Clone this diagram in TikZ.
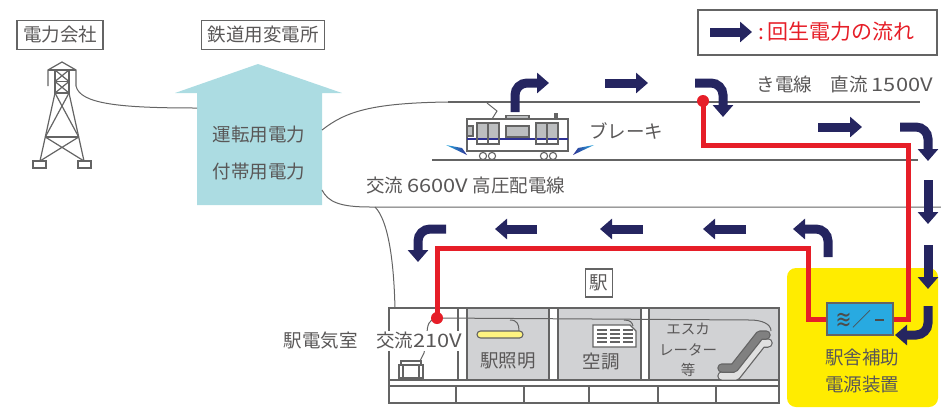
\documentclass[tikz,border=0pt]{standalone}
\usepackage{fontspec}
\setmainfont{Noto Sans CJK JP}
\newfontfamily\widelatin[FakeStretch=1.18]{Noto Sans CJK JP}
\newfontfamily\symfont{DejaVu Sans}
\usetikzlibrary{arrows.meta}

\definecolor{txtgray}{RGB}{89,87,87}
\definecolor{wiregray}{RGB}{100,100,100}
\definecolor{navyflow}{RGB}{37,37,96}
\definecolor{regenred}{RGB}{230,30,40}
\definecolor{subblue}{RGB}{172,220,226}
\definecolor{apsyellow}{RGB}{255,236,0}
\definecolor{convblue}{RGB}{40,170,225}
\definecolor{roomgray}{RGB}{209,210,212}
\definecolor{lampyellow}{RGB}{255,244,128}
\definecolor{cargray}{RGB}{188,190,192}
\definecolor{carblue}{RGB}{46,49,146}

\tikzset{
  lbl/.style={text=txtgray, font=\fontsize{18.5}{21}\selectfont, inner sep=0pt},
  tagbox/.style={lbl, draw=wiregray, line width=1.2pt, inner xsep=6pt, minimum height=29pt},
  smalllbl/.style={text=txtgray, font=\fontsize{14.5}{20.5}\selectfont, inner sep=0pt, align=center},
  wire/.style={draw=wiregray, line width=1pt},
  track/.style={draw=wiregray, line width=2.4pt},
  outline/.style={draw=wiregray, line width=1.1pt},
  redline/.style={draw=regenred, line width=5pt},
  reddot/.style={circle, fill=regenred, minimum size=12pt, inner sep=0pt},
  flow/.style={draw=navyflow, line width=9pt, rounded corners=12pt, -{Triangle[length=12pt,width=20pt]}},
}

\begin{document}
\begin{tikzpicture}[x=1pt, y=-1pt]
  \useasboundingbox (0,0) rectangle (941,408);

  % auxiliary power unit background
  \fill[apsyellow, rounded corners=9pt] (787,268) rectangle (938,407);

  % substation (big arrow)
  \fill[subblue] (258,64) -- (342,93) -- (322,93) -- (322,205) -- (197,205) -- (197,93) -- (175,93) -- cycle;
  \node[lbl] (opPower) at (259,135) {運転用電力};
  \node[lbl] (auxPower) at (259,172) {付帯用電力};

  % pylon
  \begin{scope}[draw=wiregray, line width=1.2pt]
    \draw (48,86) -- (48,70) -- (62,62) -- (76,70) -- (76,86);
    \draw (48,70) -- (76,70);
    \draw (55,70) rectangle (69,93);
    \draw (55,81.5) -- (69,81.5);
    \draw (55,70) -- (69,81.5) (69,70) -- (55,81.5);
    \draw (55,81.5) -- (69,93) (69,81.5) -- (55,93);
    \draw (55,93) -- (40,161) (69,93) -- (84,161);
    \draw (45.3,137) -- (78.7,137);
    \draw (55,93) -- (78.7,137) (69,93) -- (45.3,137);
    \draw (45.3,137) -- (84,161) (78.7,137) -- (40,161);
    \draw (33,161) rectangle (46,168) (78,161) rectangle (91,168);
  \end{scope}
  \coordinate (pylonArm) at (76,86);
  \coordinate (subIn) at (197,108);
  \draw[wire] (pylonArm) .. controls (80,104) and (120,108) .. (subIn);

  % tags
  \node[tagbox] (tagPower) at (60,35) {電力会社};
  \node[tagbox] (tagSub) at (263,35) {鉄道用変電所};

  % feeders out of the substation
  \coordinate (subUp) at (322,130);
  \coordinate (subLow) at (322,190);
  \coordinate (catStart) at (448,102);
  \coordinate (catEnd) at (920,102);
  \coordinate (railStart) at (432,160);
  \coordinate (railEnd) at (918,160);
  \draw[wire] (subUp) .. controls (345,112) and (370,103) .. (catStart);
  \draw[track] (catStart) -- (catEnd);
  \draw[track] (railStart) -- (railEnd);
  \draw[wire] (subLow) .. controls (328,202) and (340,207) .. (370,207) -- (941,207);
  \draw[wire] (375,207) .. controls (388,220) and (394,260) .. (395,310) -- (396,345) -- (401,355) -- (404,361);

  \node[lbl, anchor=east] (feederTxt) at (933,84) {き電線　直流 {\widelatin 1500V}};
  \node[lbl, anchor=west] (distTxt) at (366,185) {交流 {\widelatin 6600V} 高圧配電線};
  \node[lbl] (brakeTxt) at (626,131) {ブレーキ};

  % train
  \draw[wire] (487,103) -- (497,111) -- (492,119);
  \draw[outline, fill=white] (467,119) rectangle (568,151);
  \draw[outline, fill=cargray] (506,115.5) rectangle (529,119);
  \fill[wiregray] (554,113) rectangle (558,119);
  \foreach \d in {477,536}
    \fill[cargray] (\d,123) rectangle ++(22,15);
  \draw[carblue, line width=2pt] (467,139) -- (568,139);
  \foreach \d in {477,536}
    \draw[outline] (\d,123) rectangle ++(22,21) (\d+11,123) -- ++(0,21);
  \draw[outline, fill=cargray] (467,126) rectangle (473,136);
  \draw[outline, fill=cargray] (506,126) rectangle (529,137);
  \foreach \w in {483,492,544,553}
    \draw[outline, fill=white] (\w,156) circle[radius=3.6];
  \shade[left color=convblue, right color=carblue] (446,145) -- (462,148) -- (467,155) -- cycle;
  \shade[left color=carblue, right color=convblue] (594,145) -- (578,148) -- (573,155) -- cycle;

  % station building
  \node[tagbox, inner xsep=4pt, minimum height=28pt] (staTag) at (599,283) {駅};
  \fill[white] (389,308) rectangle (779,403);
  \fill[roomgray] (467,308) rectangle (549,380);
  \fill[roomgray] (558,308) rectangle (641,380);
  \fill[roomgray] (649,308) rectangle (779,380);
  \draw[outline] (389,380) -- (779,380) (389,386) -- (779,386);
  \foreach \x in {456,524,589,658,716}
    \draw[outline] (\x,386) -- (\x,403);
  \foreach \a/\b in {458/467,549/558,641/649}
    \draw[outline] (\a,308) -- (\a,380) (\b,308) -- (\b,380);

  % wiring from the tap point
  \coordinate (staTap) at (437,318);
  \draw[wire] (staTap) -- (750,320) .. controls (762,320) and (771,324) .. (771,331);
  \draw[wire] (510,320) .. controls (517,320) and (519,324) .. (519,331);
  \draw[wire] (624,320) .. controls (630,320) and (632,322) .. (633,326);
  \draw[wire] (staTap) .. controls (429,319) and (427,325) .. (427,335) -- (424,353) -- (420,361);

  % transformer
  \draw[outline, fill=white] (401,361) rectangle (421,365);
  \draw[outline, fill=white] (399,365) rectangle (423,378);
  \draw[outline] (403,365) -- (403,378) (419,365) -- (419,378);

  % lighting
  \draw[outline, fill=lampyellow, rounded corners=3.5pt] (477,331) rectangle (523,338);
  \node[lbl] (lampTxt) at (508,361) {駅照明};

  % air conditioner
  \draw[outline, fill=white] (593,325) -- (630,325) -- (636,331) -- (636,347) -- (593,347) -- cycle;
  \foreach \c in {597,610,623}
    \foreach \r in {330,334,338,342}
      \draw[draw=wiregray, line width=1.4pt] (\c,\r) -- ++(10,0);
  \node[lbl] (acTxt) at (601,362) {空調};

  % escalator
  \draw[draw=wiregray, line width=9.5pt, line cap=round, line join=round] (722,376) -- (736,376) -- (762,343) -- (768,343);
  \draw[draw=black!12, line width=7pt, line cap=round, line join=round] (722,376) -- (736,376) -- (762,343) -- (768,343);
  \draw[draw=wiregray, line width=9.5pt, line cap=round, line join=round] (722,368) -- (734,368) -- (760,335) -- (766,335);
  \draw[draw=black!50, line width=7pt, line cap=round, line join=round] (722,368) -- (734,368) -- (760,335) -- (766,335);
  \node[smalllbl] (escTxt) at (688,350) {エスカ\\レーター\\等};

  \draw[outline] (389,308) rectangle (779,403);

  \node[lbl, fill=white, inner sep=1.5pt, anchor=east] (roomTxt) at (464,341) {駅電気室　交流{\widelatin 210V}};

  % converter and tap points
  \node[draw=wiregray, line width=1.8pt, fill=convblue, minimum width=66pt, minimum height=32pt, inner sep=0pt, text=black!70] (conv) at (860,319)
    {\raisebox{-2pt}{\scalebox{1}[1.35]{\symfont\fontsize{19}{19}\selectfont ≋}}\hspace{1pt}{\fontsize{19}{19}\selectfont ／}\hspace{4pt}\raisebox{5pt}{\rule{9pt}{1.6pt}}};
  \node[lbl, align=center] (apsTxt) at (862,371) {駅舎補助\\[6pt]電源装置};
  \node[reddot] (dotCat) at (703,101) {};
  \node[reddot] (dotSta) at (staTap) {};

  % regenerated power path
  \draw[redline] (dotCat.center) -- (703,145) -- (908,145) |- (conv.east);
  \draw[redline] (conv.west) -| (808,248) -| (dotSta.center);

  % flow arrows
  \draw[flow] (515,112) -- (515,83) -- (549,83);
  \draw[flow] (605,83) -- (648,83);
  \draw[flow] (695,83) -- (723,83) -- (723,117);
  \draw[flow] (818,127) -- (862,127);
  \draw[flow] (900,127) -- (928,127) -- (928,161);
  \draw[flow] (928,180) -- (928,224);
  \draw[flow] (928,245) -- (928,289);
  \draw[flow] (928,306) -- (928,335) -- (895,335);
  \draw[flow] (828,257) -- (828,229) -- (793,229);
  \draw[flow] (746,229) -- (703,229);
  \draw[flow] (643,229) -- (600,229);
  \draw[flow] (537,229) -- (495,229);
  \draw[flow] (446,229) -- (418,229) -- (418,262);

  % legend
  \node[draw=wiregray, line width=1.2pt, minimum width=239pt, minimum height=45pt] (legend) at (817.5,32.5) {};
  \draw[flow] (710,32) -- (752,32);
  \node[lbl, text=regenred, font=\fontsize{21}{23}\selectfont, anchor=west] (legendTxt) at (758,32) {:\,回生電力の流れ};
\end{tikzpicture}
\end{document}
